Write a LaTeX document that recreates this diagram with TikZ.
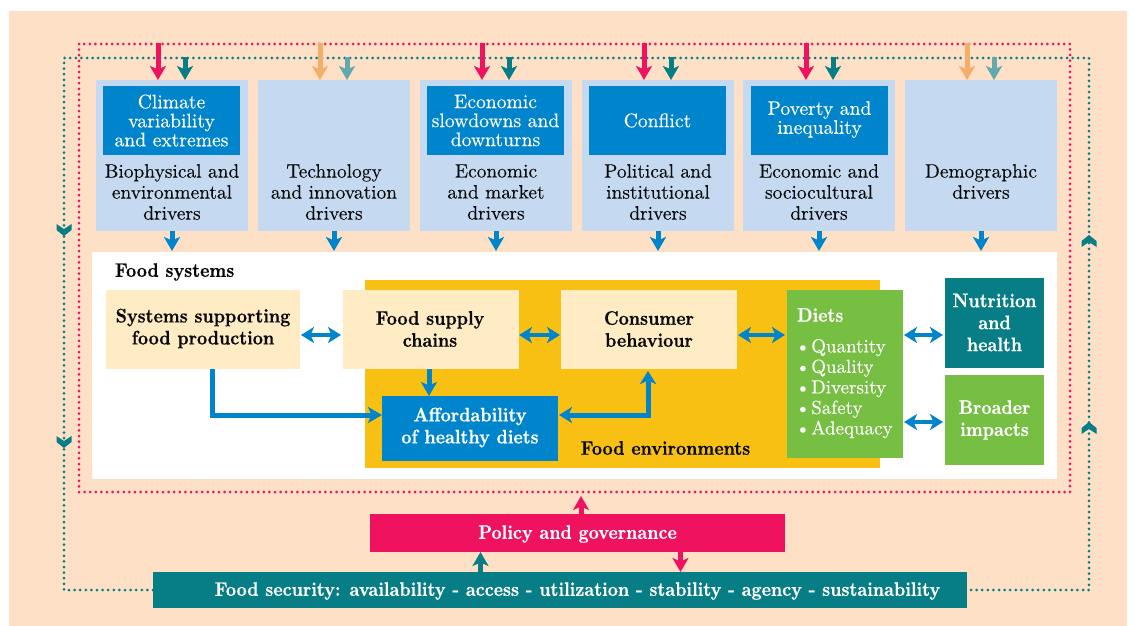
\documentclass[tikz,border=0pt]{standalone}
\usepackage{fontspec}
\setmainfont{lmroman10-regular}[Extension=.otf,BoldFont=lmroman10-bold,BoldFeatures={FakeStretch=0.9,FakeBold=0.5},FakeBold=0.12]
\usetikzlibrary{arrows.meta,calc}
\definecolor{peach}{HTML}{FDE0C5}
\definecolor{lblue}{HTML}{C5D9F1}
\definecolor{mblue}{HTML}{0085CD}
\definecolor{cred}{HTML}{EF135F}
\definecolor{cteal}{HTML}{077E85}
\definecolor{cgreen}{HTML}{76BF43}
\definecolor{cyell}{HTML}{F8C012}
\definecolor{cream}{HTML}{FFEBC4}
\definecolor{corange}{HTML}{F5AE68}
\definecolor{gteal}{HTML}{62A8AC}
\definecolor{ink}{HTML}{0A0A0A}
\tikzset{
  x=1pt,y=-1pt,
  box/.style={draw=none,inner sep=0pt,outer sep=0pt,anchor=center},
  lab/.style={inner sep=0pt,outer sep=0pt,align=center,text=ink,font=\fontsize{19.4}{21}\selectfont},
  wlab/.style={lab,text=white,font=\fontsize{19.6}{19}\selectfont},
  blab/.style={lab,font=\fontsize{19.6}{22}\selectfont\bfseries},
  wblab/.style={blab,text=white},
  tip/.style={-{Stealth[length=14pt,width=16pt,inset=3.5pt]}},
  dtip/.style={{Stealth[length=13pt,width=16pt,inset=3.5pt]}-{Stealth[length=13pt,width=16pt,inset=3.5pt]}},
  arr/.style={tip,line width=5pt,draw=#1},
  darr/.style={dtip,line width=4.5pt,draw=mblue},
  dots/.style={draw=#1,line width=3pt,line cap=round,dash pattern=on 0pt off 5.6pt},
  chevd/.pic={\fill[cteal] (-7.5,-12) -- (0,-7) -- (7.5,-12) -- (7.5,-6) -- (0,0) -- (-7.5,-6) -- cycle;},
  chevu/.pic={\fill[cteal] (-7.5,12) -- (0,7) -- (7.5,12) -- (7.5,6) -- (0,0) -- (-7.5,6) -- cycle;},
}
\begin{document}
\begin{tikzpicture}
\useasboundingbox (0,0) rectangle (1135,626);
\fill[peach] (9,11) rectangle (1127,626);
% driver blocks
\foreach \n/\a/\b in {1/96/248,2/258/410,3/420/572,4/582/734,5/743/895,6/905/1057}{
  \node[box,fill=lblue,minimum width={(\b-\a)*1pt},minimum height=151pt] (d\n) at ({(\a+\b)/2},155.5) {};
}
\foreach \n/\c in {1/171.5,3/495.5,4/657.5,5/819.5}{
  \node[box,fill=mblue,minimum width=137pt,minimum height=69pt] (h\n) at (\c,120.5) {};
}
\node[wlab] (ht1) at (h1) {Climate\\variability\\and extremes};
\node[wlab] (ht3) at (h3) {Economic\\slowdowns and\\downturns};
\node[wlab] (ht4) at (h4) {Conflict};
\node[wlab] (ht5) at ($(h5)+(0,-1)$) {Poverty and\\inequality};
\node[lab] (dt1) at (172,192) {Biophysical and\\environmental\\drivers};
\node[lab] (dt2) at (334,192) {Technology\\and innovation\\drivers};
\node[lab] (dt3) at (496,192) {Economic\\and market\\drivers};
\node[lab] (dt4) at (658,192) {Political and\\institutional\\drivers};
\node[lab] (dt5) at (819,192) {Economic and\\sociocultural\\drivers};
\node[lab] (dt6) at (981,181.5) {Demographic\\drivers};
% food systems
\node[box,fill=white,minimum width=965pt,minimum height=227pt] (fs) at (574.5,365.5) {};
\node[box,fill=cyell,minimum width=515pt,minimum height=188pt] (fe) at (622.5,374) {};
\node[blab,anchor=west] (fst) at (115,272) {Food systems};
\node[blab] (fet) at (665.5,448) {Food environments};
\node[box,fill=cream,minimum width=194pt,minimum height=79pt] (ssp) at (203,329.5) {};
\node[blab] (sspt) at (203,328.5) {Systems supporting\\food production};
\node[box,fill=cream,minimum width=176pt,minimum height=79pt] (fsc) at (431,329.5) {};
\node[blab] (fsct) at (430,329) {Food supply\\chains};
\node[box,fill=cream,minimum width=176pt,minimum height=79pt] (cb) at (649,329.5) {};
\node[blab] (cbt) at (649,329) {Consumer\\behaviour};
\node[box,fill=mblue,minimum width=176pt,minimum height=65pt] (aff) at (470,428.5) {};
\node[wblab] (afft) at (470,427.5) {Affordability\\of healthy diets};
\node[box,fill=cgreen,minimum width=116pt,minimum height=168pt] (di) at (845,374) {};
\node[wblab,anchor=west] (dit) at (797,315) {Diets};
\node[wlab,anchor=north west,align=left,font=\fontsize{19}{20.5}\selectfont] (dil) at (795.5,339) {\textbullet\hspace{1pt}Quantity\\\textbullet\hspace{1pt}Quality\\\textbullet\hspace{1pt}Diversity\\\textbullet\hspace{1pt}Safety\\\textbullet\hspace{1pt}Adequacy};
\node[box,fill=cteal,minimum width=99pt,minimum height=90pt] (nh) at (994.5,323) {};
\node[wblab] (nht) at (994.5,322.5) {Nutrition\\and\\health};
\node[box,fill=cgreen,minimum width=99pt,minimum height=90pt] (bi) at (994.5,420) {};
\node[wblab] (bit) at (994.5,420) {Broader\\impacts};
% bottom bars
\node[box,fill=cred,minimum width=415pt,minimum height=38pt] (pg) at (577.5,533) {};
\node[wblab] (pgt) at (577.5,534) {Policy and governance};
\node[box,fill=cteal,minimum width=814pt,minimum height=36pt] (fsec) at (560,590) {};
\node[wblab] (fsect) at (577.5,591) {Food security: availability - access - utilization - stability - agency - sustainability};
% dotted loops
\coordinate (tl) at (64,58);
\coordinate (tr) at (1089,58);
\draw[dots=cteal] (fsec.west) -| (tl) -- (tr) |- (fsec.east);
\coordinate (rl) at (79,44);
\coordinate (rr) at (1070,492);
\draw[dots=cred] (rl) rectangle (rr);
% chevrons
\pic at (64,236) {chevd};
\pic at (64,448) {chevd};
\pic at (1089,235) {chevu};
\pic at (1089,422) {chevu};
% top arrows
\foreach \n/\x/\cr/\ct in {1/158/cred/cteal,2/320/corange/gteal,3/482/cred/cteal,4/644/cred/cteal,5/806/cred/cteal,6/967/corange/gteal}{
  \coordinate (ra\n) at (\x,43);
  \coordinate (ta\n) at (\x+27,57);
  \draw[arr=\cr] (ra\n) -- (ra\n |- d\n.north);
  \draw[arr=\ct] (ta\n) -- (ta\n |- d\n.north);
  \draw[arr=mblue] (d\n.south) -- ($(d\n.south |- fs.north)+(0,-1)$);
}
% internal arrows
\draw[darr] ($(ssp.east |- 0,335)+(1,0)$) -- ($(fsc.west |- 0,335)+(-2,0)$);
\draw[darr] ($(fsc.east |- 0,335)+(0,0)$) -- ($(cb.west |- 0,335)+(-1,0)$);
\draw[darr] ($(cb.east |- 0,335)+(1,0)$) -- ($(di.west |- 0,335)+(-2,0)$);
\draw[darr] ($(di.east |- 0,335)+(1,0)$) -- ($(nh.west |- 0,335)+(-2,0)$);
\draw[darr] ($(di.east |- 0,422)+(1,0)$) -- ($(bi.west |- 0,422)+(-2,0)$);
\coordinate (a1) at (212,415);
\coordinate (a2) at (648,415);
\coordinate (a3) at (429,0);
\draw[arr=mblue,line join=miter] (a1 |- ssp.south) -- (a1) -- (aff.west |- a1);
\draw[arr=mblue] (a3 |- fsc.south) -- (a3 |- aff.north);
\draw[dtip,line width=5pt,draw=mblue] ($(aff.east |- a2)+(1,0)$) -- (a2) -- ($(a2 |- cb.south)+(0,2)$);
% bottom arrows
\coordinate (b1) at (581,0);
\coordinate (b2) at (680.5,0);
\coordinate (b3) at (480.5,0);
\coordinate (b0) at (0,496);
\draw[arr=cred] (b1 |- pg.north) -- (b1 |- b0);
\draw[arr=cred] (b2 |- pg.south) -- (b2 |- fsec.north);
\draw[arr=cteal] (b3 |- fsec.north) -- (b3 |- pg.south);
\end{tikzpicture}
\end{document}
